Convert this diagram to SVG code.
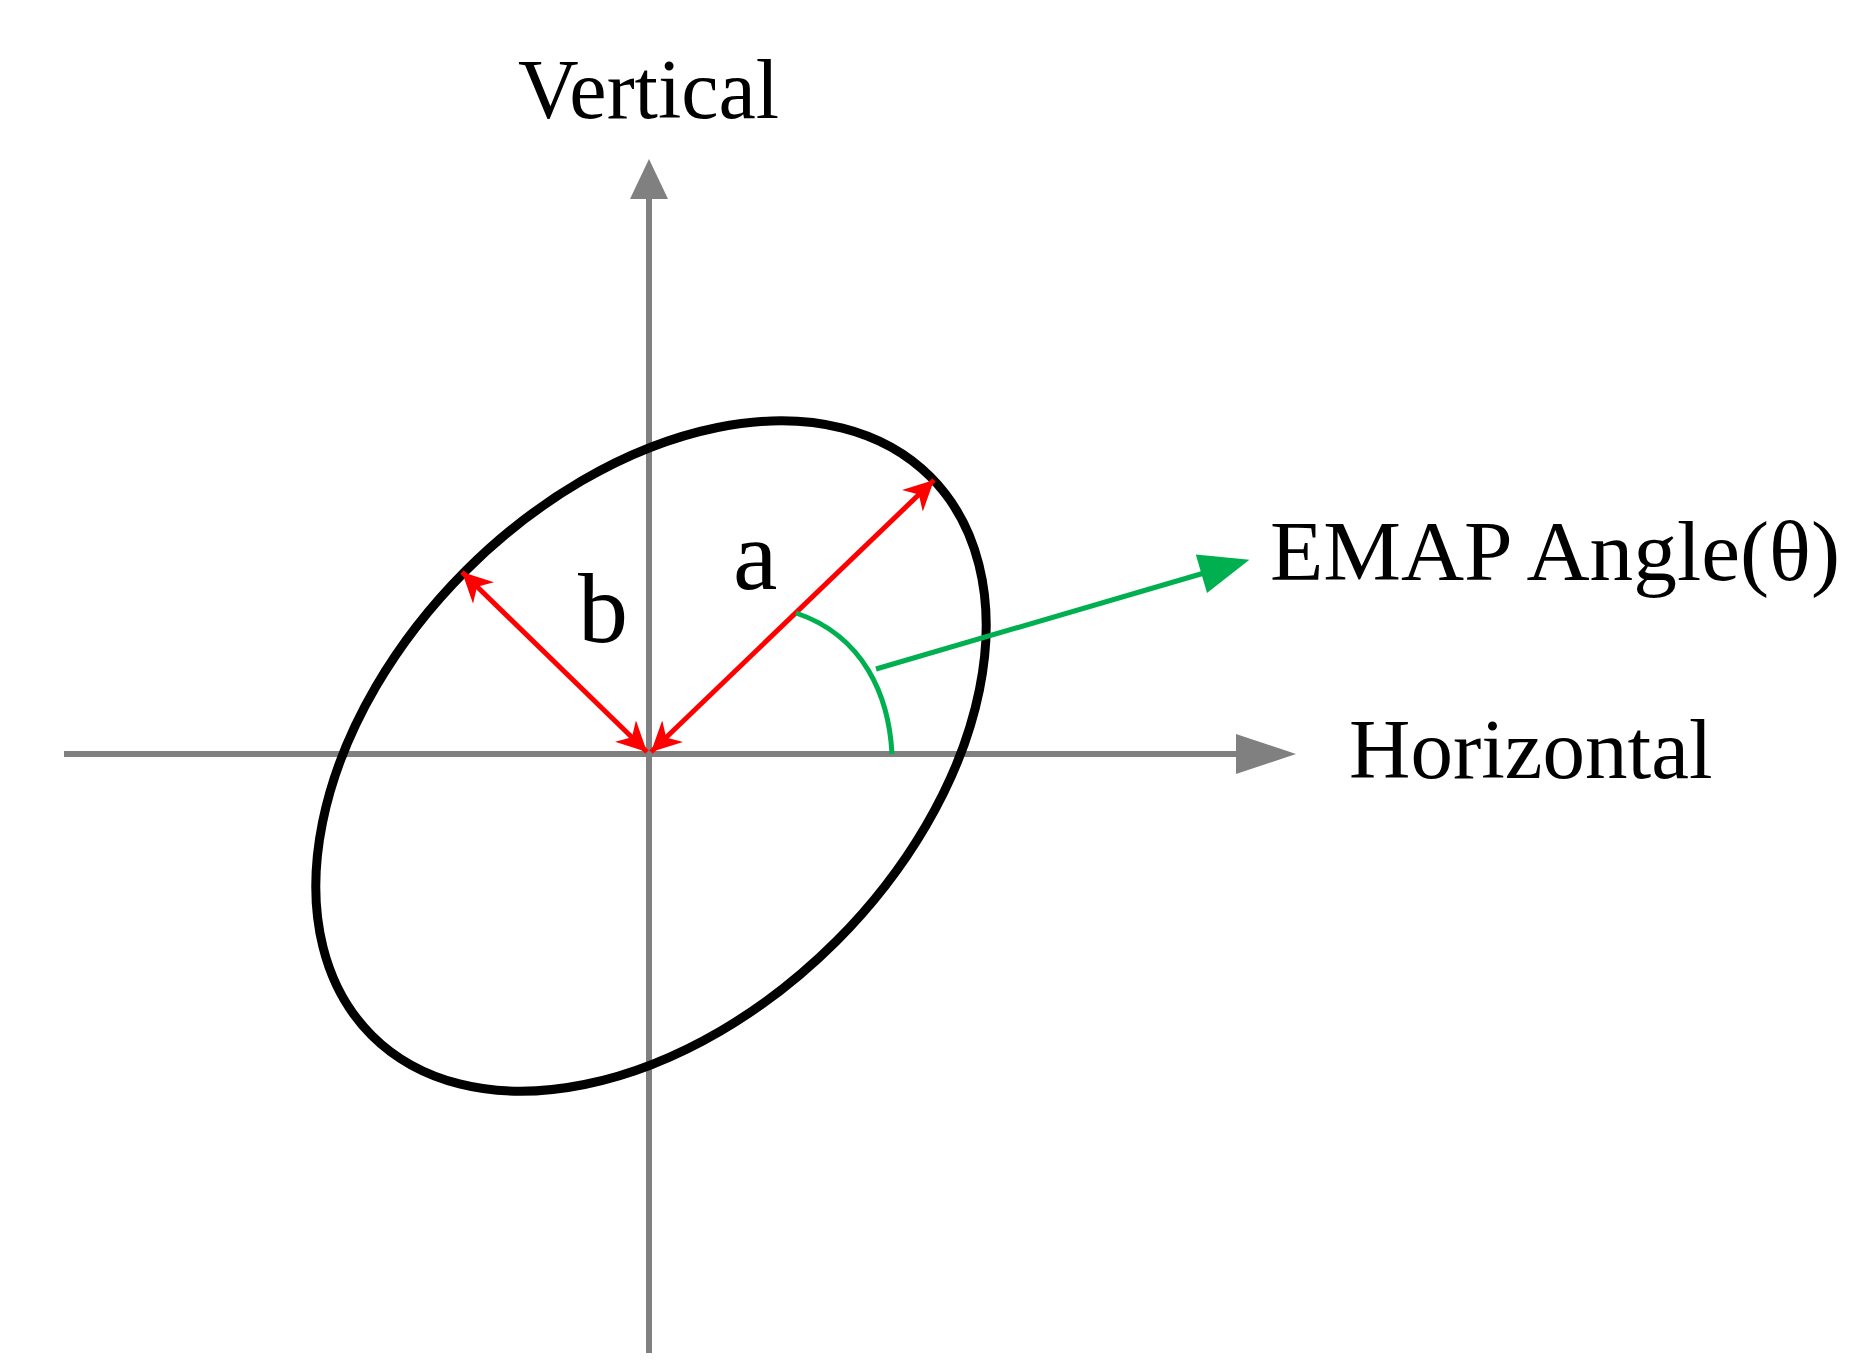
<svg xmlns="http://www.w3.org/2000/svg" width="1862" height="1367" viewBox="0 0 1862 1367">
<style>
text{font-family:"Liberation Serif","Times New Roman",serif;fill:#000}
.ax{stroke:#808080;stroke-width:6;fill:none}
.red{stroke:#ff0000;stroke-width:5;fill:none}
.grn{stroke:#00b050;stroke-width:5;fill:none}
</style>
<defs>
<marker id="ra" viewBox="0 0 10 10" refX="10" refY="5" markerWidth="30" markerHeight="30" orient="auto-start-reverse" markerUnits="userSpaceOnUse"><path d="M0,0L10,5L0,10L3,5z" fill="#ff0000"/></marker>
<marker id="gr" viewBox="0 0 10 8" refX="2" refY="4" markerWidth="56" markerHeight="40" orient="auto" markerUnits="userSpaceOnUse"><path d="M0,0L10,4L0,8z" fill="#00b050"/></marker>
</defs>
<g transform="translate(-6,6)">
<g id="connectors">
<line class="ax" x1="70" y1="748" x2="1250" y2="748"/>
<path d="M1242,728L1302,748L1242,768z" fill="#808080"/>
<line class="ax" x1="655" y1="1347" x2="655" y2="190"/>
<path d="M636,193L655,153L674,193z" fill="#808080"/>
</g>
<g id="ellipse"><ellipse cx="657" cy="750" rx="395" ry="262" transform="rotate(-45 657 750)" fill="none" stroke="#000" stroke-width="9"/></g>
<g id="arrows">
<line class="red" x1="657" y1="746" x2="940" y2="474" marker-start="url(#ra)" marker-end="url(#ra)"/>
<line class="red" x1="653" y1="746" x2="468" y2="566" marker-start="url(#ra)" marker-end="url(#ra)"/>
<path class="grn" d="M898,748 C895,690 870,630 802,607"/>
<line class="grn" x1="882" y1="663" x2="1217" y2="565" marker-end="url(#gr)"/>
</g>
</g>
<g id="labels">
<text x="518" y="118" font-size="84">Vertical</text>
<text x="1349" y="778" font-size="85">Horizontal</text>
<text x="1270" y="580" font-size="84" textLength="570" lengthAdjust="spacingAndGlyphs">EMAP Angle(θ)</text>
<text x="733" y="589" font-size="100">a</text>
<text x="578" y="642" font-size="100">b</text>
</g>
</svg>
